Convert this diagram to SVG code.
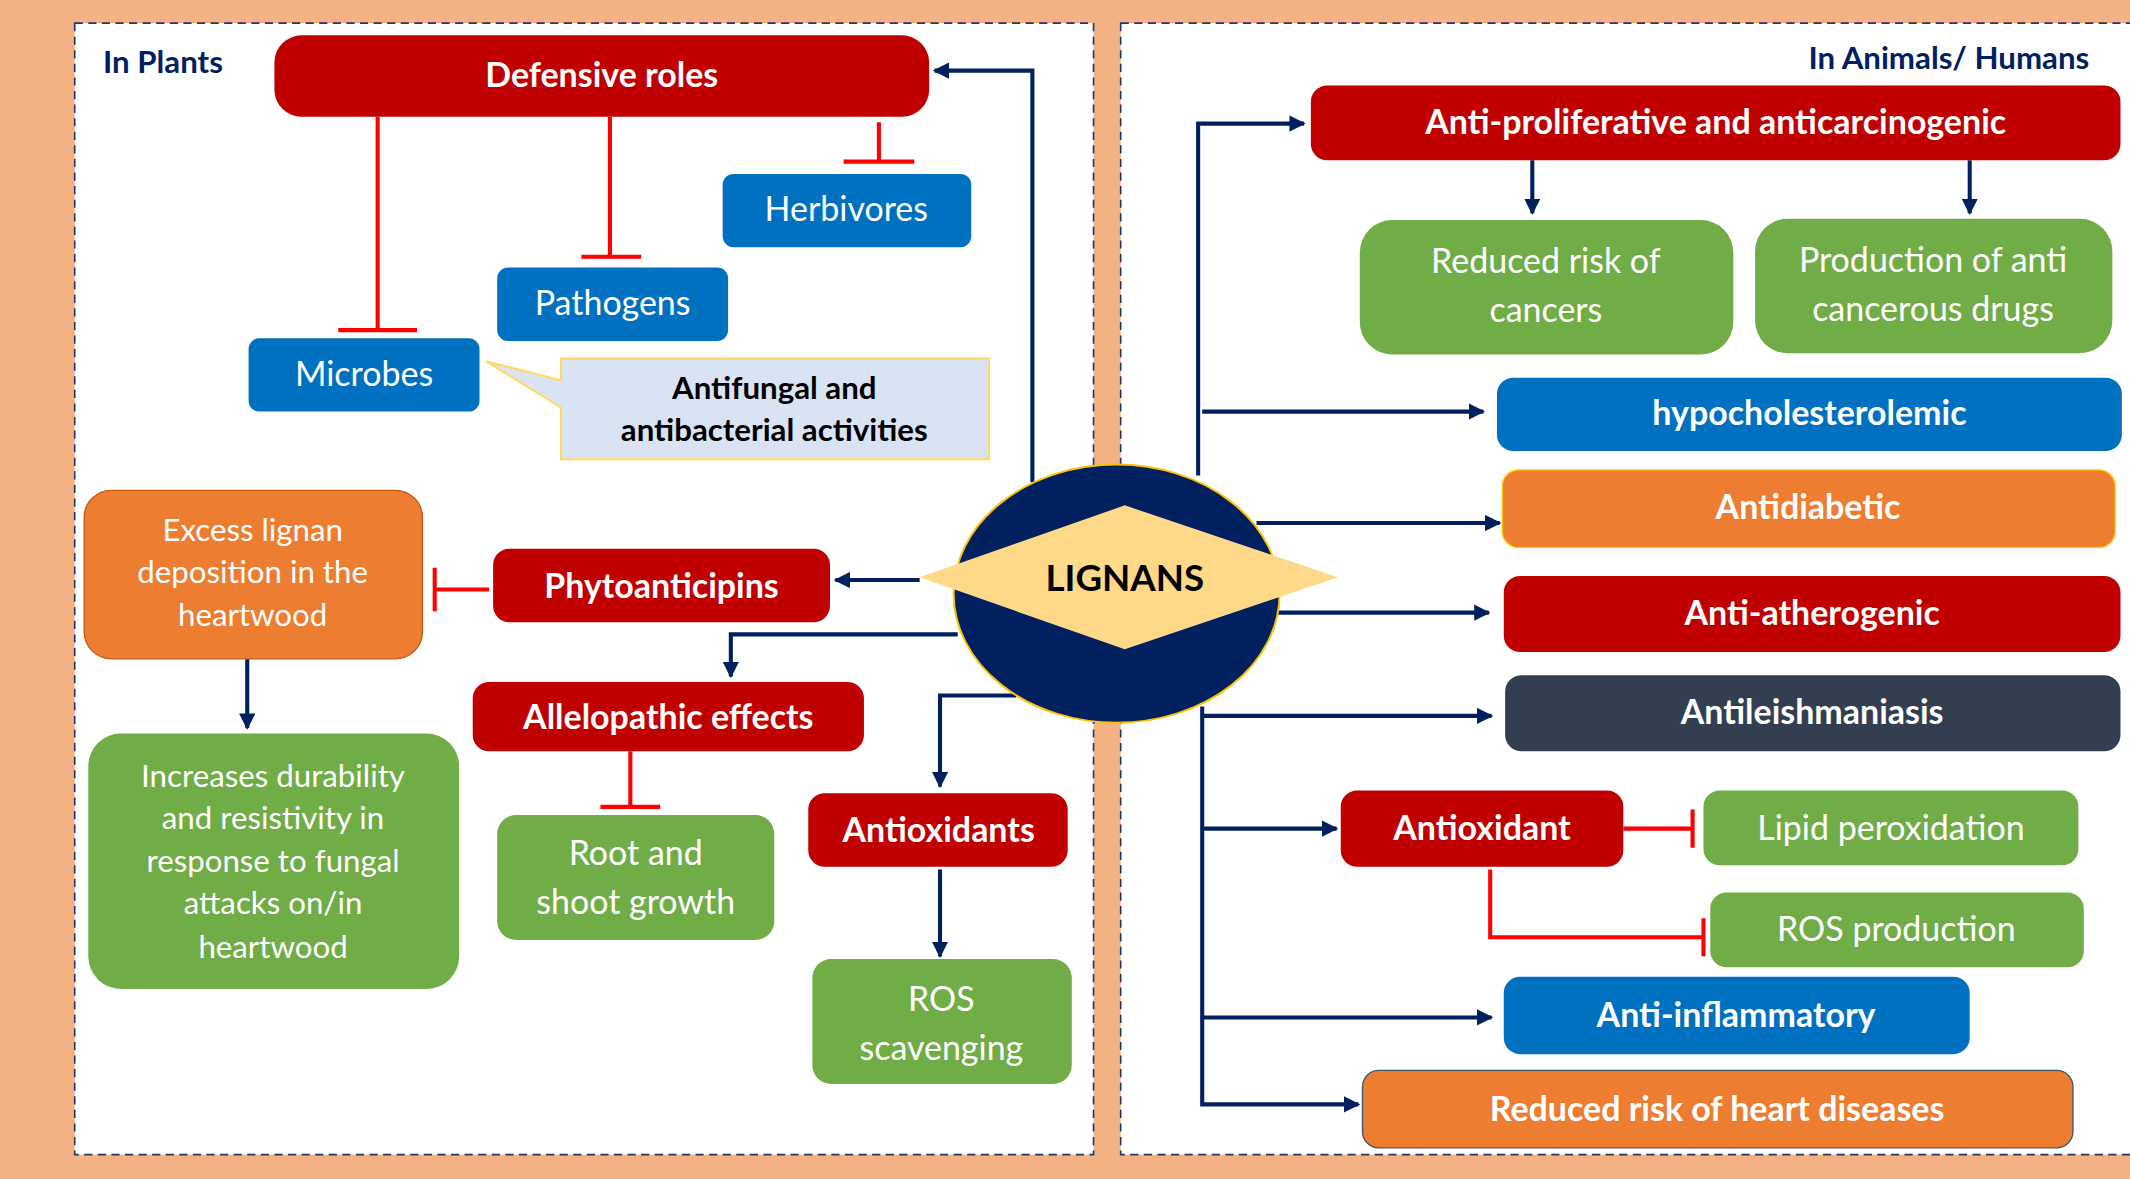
<svg xmlns="http://www.w3.org/2000/svg" width="2130" height="1179" viewBox="0 0 2130 1179">
<defs>
<style>
text{font-family:Lato,"Open Sans","Liberation Sans",sans-serif;text-anchor:middle}
.b{font-weight:bold;fill:#fff;font-size:25px}
.n{fill:#fff;font-size:25px}
.red{fill:#C00000}.blue{fill:#0070C0}.org{fill:#ED7D31}.grn{fill:#70AD47}.dk{fill:#333F50}
.ar{stroke:#002060;stroke-width:3;fill:none;marker-end:url(#ah)}
.in{stroke:#FF0000;stroke-width:3;fill:none}
.panel{fill:#fff;stroke:#1F3864;stroke-width:1.2;stroke-dasharray:6 4}
</style>
<marker id="ah" viewBox="0 0 10 10" refX="9" refY="5" markerWidth="4" markerHeight="4" orient="auto"><path d="M0,0L10,5L0,10z" fill="#002060"/></marker>
</defs>
<rect width="2130" height="1179" fill="#F4B183"/>
<g transform="scale(1.35842)">
<rect class="panel" x="55" y="17" width="750" height="833"/>
<rect class="panel" x="825" y="17" width="760" height="833"/>
<text x="120" y="54" style="font-weight:bold;font-size:23px;fill:#002060">In Plants</text>
<text x="1538" y="51" style="font-weight:bold;font-size:23px;fill:#002060;text-anchor:end">In Animals/ Humans</text>
<g id="connectors">
<path class="in" d="M278,86V243M249,243H307M449,86V189M428,189H472M647,90V119M621,119H673"/>
<path class="in" d="M360,434H320M320,418V450M464,553V594M442,594H486"/>
<path class="in" d="M1195,610H1246M1246,596V624M1097,640V690H1254M1254,676V704"/>
<path class="ar" d="M760,355V52H688"/>
<path class="ar" d="M677,427H615"/>
<path class="ar" d="M705,467H538V498"/>
<path class="ar" d="M748,512H692V579"/>
<path class="ar" d="M692,640V704"/>
<path class="ar" d="M182,485V536"/>
<path class="ar" d="M882,350V91H960"/>
<path class="ar" d="M1128,118V157"/>
<path class="ar" d="M1450,118V157"/>
<path class="ar" d="M885,303H1092"/>
<path class="ar" d="M925,385H1104"/>
<path class="ar" d="M940,451H1096"/>
<path class="ar" d="M885,520V813H1000"/>
<path class="ar" d="M885,527H1098"/>
<path class="ar" d="M885,610H984"/>
<path class="ar" d="M885,749H1098"/>
</g>
<g id="defensive"><rect class="red" x="202" y="26" width="482" height="60" rx="20"/><text class="b" x="443" y="64">Defensive roles</text></g>
<g id="herbivores"><rect class="blue" x="532" y="128" width="183" height="54" rx="8"/><text class="n" x="623" y="163">Herbivores</text></g>
<g id="pathogens"><rect class="blue" x="366" y="197" width="170" height="54" rx="8"/><text class="n" x="451" y="232">Pathogens</text></g>
<g id="microbes"><rect class="blue" x="183" y="249" width="170" height="54" rx="8"/><text class="n" x="268" y="284">Microbes</text></g>
<g id="callout"><path d="M413,264H728V338H413V300L358,266L413,280Z" fill="#DAE3F3" stroke="#FFD966" stroke-width="1.5"/><text x="570" y="294" style="font-weight:bold;font-size:23px">Antifungal and</text><text x="570" y="325" style="font-weight:bold;font-size:23px">antibacterial activities</text></g>
<g id="excess"><rect class="org" x="62" y="361" width="249" height="124" rx="20" stroke="#C55A11"/><text class="n" x="186" y="398" style="font-size:23px">Excess lignan</text><text class="n" x="186" y="429" style="font-size:23px">deposition in the</text><text class="n" x="186" y="461" style="font-size:23px">heartwood</text></g>
<g id="phyto"><rect class="red" x="363" y="404" width="248" height="54" rx="12"/><text class="b" x="487" y="440">Phytoanticipins</text></g>
<g id="increases"><rect class="grn" x="65" y="540" width="273" height="188" rx="24"/><text class="n" x="201" y="579" style="font-size:23px">Increases durability</text><text class="n" x="201" y="610" style="font-size:23px">and resistivity in</text><text class="n" x="201" y="642" style="font-size:23px">response to fungal</text><text class="n" x="201" y="673" style="font-size:23px">attacks on/in</text><text class="n" x="201" y="705" style="font-size:23px">heartwood</text></g>
<g id="allelo"><rect class="red" x="348" y="502" width="288" height="51" rx="12"/><text class="b" x="492" y="537">Allelopathic effects</text></g>
<g id="root"><rect class="grn" x="366" y="600" width="204" height="92" rx="14"/><text class="n" x="468" y="637">Root and</text><text class="n" x="468" y="673">shoot growth</text></g>
<g id="antioxidants"><rect class="red" x="595" y="584" width="191" height="54" rx="12"/><text class="b" x="691" y="620">Antioxidants</text></g>
<g id="ros"><rect class="grn" x="598" y="706" width="191" height="92" rx="14"/><text class="n" x="693" y="744">ROS</text><text class="n" x="693" y="780">scavenging</text></g>
<g id="lignans"><ellipse cx="822" cy="437" rx="120" ry="95" fill="#002060" stroke="#FFC000" stroke-width="1.5"/><path d="M677,425L828,372L985,425L828,478Z" fill="#FFD98A"/><text x="828" y="435" style="font-weight:bold;font-size:27px;fill:#000">LIGNANS</text></g>
<g id="antiprolif"><rect class="red" x="965" y="63" width="596" height="55" rx="12"/><text class="b" x="1263" y="99">Anti-proliferative and anticarcinogenic</text></g>
<g id="cancers"><rect class="grn" x="1001" y="162" width="275" height="99" rx="24"/><text class="n" x="1138" y="201">Reduced risk of</text><text class="n" x="1138" y="237">cancers</text></g>
<g id="drugs"><rect class="grn" x="1292" y="161" width="263" height="99" rx="24"/><text class="n" x="1423" y="200">Production of anti</text><text class="n" x="1423" y="236">cancerous drugs</text></g>
<g id="hypo"><rect class="blue" x="1102" y="278" width="460" height="54" rx="12"/><text class="b" x="1332" y="313">hypocholesterolemic</text></g>
<g id="diab"><rect class="org" x="1106" y="346" width="451" height="57" rx="12" stroke="#FFC000"/><text class="b" x="1331" y="382">Antidiabetic</text></g>
<g id="athero"><rect class="red" x="1107" y="424" width="454" height="56" rx="12"/><text class="b" x="1334" y="460">Anti-atherogenic</text></g>
<g id="leish"><rect class="dk" x="1108" y="497" width="453" height="56" rx="12"/><text class="b" x="1334" y="533">Antileishmaniasis</text></g>
<g id="antioxidant"><rect class="red" x="987" y="582" width="208" height="56" rx="12"/><text class="b" x="1091" y="618">Antioxidant</text></g>
<g id="lipid"><rect class="grn" x="1254" y="582" width="276" height="55" rx="12"/><text class="n" x="1392" y="618">Lipid peroxidation</text></g>
<g id="rosprod"><rect class="grn" x="1259" y="657" width="275" height="55" rx="12"/><text class="n" x="1396" y="693">ROS production</text></g>
<g id="inflam"><rect class="blue" x="1107" y="719" width="343" height="57" rx="12"/><text class="b" x="1278" y="756">Anti-inflammatory</text></g>
<g id="heart"><rect class="org" x="1003" y="788" width="523" height="57" rx="12" stroke="#44546A"/><text class="b" x="1264" y="825">Reduced risk of heart diseases</text></g>
</g>
</svg>
